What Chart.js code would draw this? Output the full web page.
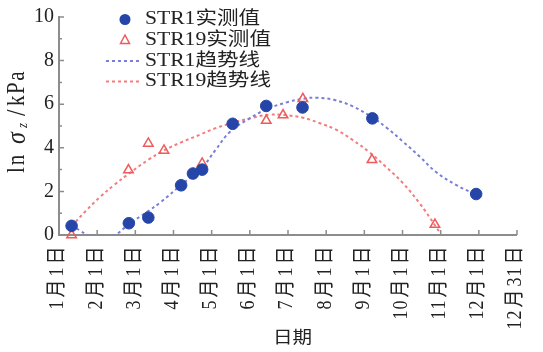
<!DOCTYPE html>
<html>
<head>
<meta charset="utf-8">
<script src="https://cdn.jsdelivr.net/npm/chart.js@4/dist/chart.umd.min.js"></script>
<style>
  html, body { margin: 0; padding: 0; background: #fff; }
  #wrap { width: 543px; height: 352px; }
</style>
</head>
<body>
<div id="wrap"><canvas id="chart"></canvas></div>
<script>
// x is measured in months from Jan 1 (0) to Dec 31 (12)
const dateLabels = ['1月1日', '2月1日', '3月1日', '4月1日', '5月1日', '6月1日', '7月1日',
  '8月1日', '9月1日', '10月1日', '11月1日', '12月1日', '12月31日'];
const yTicks = [0, 2, 4, 6, 8, 10];
const seriesNames = ['STR1实测值', 'STR19实测值', 'STR1趋势线', 'STR19趋势线'];

// measured values
const str1X = [0.33, 1.83, 2.34, 3.2, 3.51, 3.75, 4.55, 5.43, 6.38, 8.21, 10.93];
const str1Y = [0.42, 0.54, 0.8, 2.28, 2.82, 3.0, 5.1, 5.92, 5.85, 5.35, 1.88];
const str19X = [0.33, 1.82, 2.34, 2.75, 3.75, 5.43, 5.87, 6.39, 8.2, 9.85];
const str19Y = [0.0, 2.98, 4.2, 3.88, 3.28, 5.25, 5.5, 6.25, 3.45, 0.48];

// trend lines
const trend1X = [0.33, 0.55, 0.74, 1.1, 1.48, 1.84, 2.34, 2.66, 3.2, 3.75, 4.1, 4.49, 5.0, 5.45, 6.0, 6.4, 6.74, 7.2, 7.7, 8.2, 8.6, 9.0, 9.45, 9.87, 10.4, 10.93];
const trend1Y = [0.45, 0.2, 0.0, -0.35, 0.0, 0.5, 1.1, 1.5, 2.3, 3.1, 3.9, 4.75, 5.35, 5.78, 6.1, 6.25, 6.3, 6.2, 5.9, 5.4, 4.9, 4.3, 3.6, 2.9, 2.3, 1.85];
const trend19X = [0.33, 0.7, 1.08, 1.45, 1.82, 2.34, 2.73, 3.2, 3.69, 4.1, 4.56, 5.0, 5.5, 5.9, 6.39, 6.8, 7.26, 7.7, 8.13, 8.55, 9.0, 9.45, 9.87, 9.98];
const trend19Y = [0.4, 1.1, 1.75, 2.3, 2.8, 3.45, 3.86, 4.25, 4.6, 4.9, 5.15, 5.35, 5.52, 5.5, 5.38, 5.15, 4.83, 4.35, 3.8, 3.15, 2.4, 1.45, 0.4, 0.1];

const pts = (xs, ys) => xs.map((x, i) => ({ x: x, y: ys[i] }));

const BLUE = '#2546a8';
const RED = '#f05a5a';
const BLUE_LINE = '#7a7fd6';
const RED_LINE = '#f47c7c';
const AXIS = '#8c8c8c';
const INK = '#222';
const FONT = "'Liberation Serif', 'Noto Sans CJK SC', serif";
const SX = 1.2; // text is a little wide

Chart.defaults.font.family = FONT;
Chart.defaults.font.size = 20;
Chart.defaults.color = INK;

// draws text char by char along a (possibly rotated) baseline, stretched in screen x
function drawStr(ctx, str, x, y, font, opts = {}) {
  const spacing = opts.spacing || 0;
  ctx.save();
  ctx.font = font;
  ctx.translate(x, y);
  ctx.scale(opts.sx || SX, 1);
  if (opts.rotate) ctx.rotate(-Math.PI / 2);
  ctx.textAlign = 'left';
  ctx.textBaseline = 'middle';
  let t = 0;
  for (const ch of str) {
    ctx.fillText(ch, t, 0);
    t += ctx.measureText(ch).width + spacing;
  }
  ctx.restore();
  return t - spacing;
}

// date labels set in fixed cells: narrow for digits, wide for hanzi
const cellOf = ch => (/[0-9]/.test(ch) ? 10 : 23);
const cellLen = str => [...str].reduce((s, ch) => s + cellOf(ch), 0);

function drawCells(ctx, str, x, y, font, sx) {
  ctx.save();
  ctx.font = font;
  ctx.translate(x, y);
  ctx.scale(sx, 1);
  ctx.rotate(-Math.PI / 2);
  ctx.textAlign = 'center';
  ctx.textBaseline = 'middle';
  let t = 0;
  for (const ch of str) {
    const w = cellOf(ch);
    ctx.fillText(ch, t + w / 2, 0);
    t += w;
  }
  ctx.restore();
}

// axis lines with inward ticks
const axesPlugin = {
  id: 'axes',
  beforeDatasetsDraw(chart) {
    const { ctx, chartArea: a, scales: { x, y } } = chart;
    ctx.save();
    ctx.strokeStyle = AXIS;
    ctx.lineWidth = 2;
    ctx.beginPath();
    ctx.moveTo(a.left, a.top - 1);
    ctx.lineTo(a.left, a.bottom);
    ctx.lineTo(a.right, a.bottom);
    ctx.stroke();
    ctx.lineWidth = 1.5;
    ctx.beginPath();
    for (let v = 0; v <= 10; v++) {
      const py = y.getPixelForValue(v);
      ctx.moveTo(a.left, py);
      ctx.lineTo(a.left + (v % 2 === 0 ? 5 : 3), py);
    }
    dateLabels.forEach((_, i) => {
      const px = x.getPixelForValue(i);
      ctx.moveTo(px, a.bottom);
      ctx.lineTo(px, a.bottom - 5);
    });
    ctx.stroke();
    ctx.restore();
  }
};

// date labels, legend, axis titles
const textPlugin = {
  id: 'texts',
  afterDraw(chart) {
    const { ctx, chartArea: a, scales: { x } } = chart;
    ctx.save();
    ctx.fillStyle = INK;

    // rotated date labels, read bottom to top, top end just below the axis
    dateLabels.forEach((lab, i) => {
      const px = x.getPixelForValue(i) - 1;
      drawCells(ctx, lab, px, a.bottom + 9 + cellLen(lab), '18px ' + FONT, 1.15);
    });

    // legend
    const legFont = '18px ' + FONT;
    const rows = [19.5, 40, 61, 81.5];
    seriesNames.forEach((n, i) => drawStr(ctx, n, 145, rows[i], legFont));
    ctx.fillStyle = BLUE;
    ctx.beginPath();
    ctx.arc(125, rows[0], 5.5, 0, Math.PI * 2);
    ctx.fill();
    ctx.strokeStyle = RED;
    ctx.lineWidth = 1.5;
    ctx.beginPath();
    ctx.moveTo(125, rows[1] - 5);
    ctx.lineTo(129.5, rows[1] + 3.5);
    ctx.lineTo(120.5, rows[1] + 3.5);
    ctx.closePath();
    ctx.stroke();
    ctx.lineWidth = 2;
    ctx.setLineDash([3, 3]);
    [[BLUE_LINE, rows[2]], [RED_LINE, rows[3]]].forEach(([c, ry]) => {
      ctx.strokeStyle = c;
      ctx.beginPath();
      ctx.moveTo(106, ry);
      ctx.lineTo(142, ry);
      ctx.stroke();
    });
    ctx.setLineDash([]);

    // x title
    ctx.fillStyle = INK;
    drawStr(ctx, '日期', 273, 339, '17px ' + FONT, { sx: 1.15 });

    // y title: ln σz/kPa, bottom to top
    const tx = 18;
    drawStr(ctx, 'ln', tx, 173, '21px ' + FONT, { rotate: true, spacing: 2, sx: 1.15 });
    drawStr(ctx, 'σ', tx, 144, 'italic 24px ' + FONT, { rotate: true, sx: 1.15 });
    drawStr(ctx, 'z', tx + 5, 128, 'italic 13px ' + FONT, { rotate: true, sx: 1.15 });
    drawStr(ctx, '/', tx, 116, '23px ' + FONT, { rotate: true, sx: 1.15 });
    drawStr(ctx, 'kPa', tx, 106, '21px ' + FONT, { rotate: true, spacing: 1.5, sx: 1.15 });
    ctx.restore();
  }
};

new Chart(document.getElementById('chart'), {
  type: 'scatter',
  data: {
    datasets: [
      {
        label: seriesNames[0],
        data: pts(str1X, str1Y),
        pointStyle: 'circle',
        pointRadius: 5.8,
        backgroundColor: BLUE,
        borderColor: BLUE,
        borderWidth: 1,
        clip: false
      },
      {
        label: seriesNames[1],
        data: pts(str19X, str19Y),
        pointStyle: 'triangle',
        pointRadius: 5.5,
        backgroundColor: 'rgba(255,255,255,0)',
        borderColor: RED,
        borderWidth: 1.5,
        clip: false
      },
      {
        label: seriesNames[2],
        data: pts(trend1X, trend1Y),
        showLine: true,
        pointRadius: 0,
        borderColor: BLUE_LINE,
        borderWidth: 2,
        borderDash: [3, 3],
        tension: 0.4
      },
      {
        label: seriesNames[3],
        data: pts(trend19X, trend19Y),
        showLine: true,
        pointRadius: 0,
        borderColor: RED_LINE,
        borderWidth: 2,
        borderDash: [3, 3],
        tension: 0.4
      }
    ]
  },
  options: {
    responsive: true,
    maintainAspectRatio: false,
    animation: false,
    layout: { padding: { left: 0, right: 26, top: 13, bottom: 0 } },
    plugins: {
      legend: { display: false },
      tooltip: { enabled: false }
    },
    scales: {
      x: {
        type: 'linear',
        min: 0,
        max: 12,
        grid: { display: false, drawTicks: false },
        border: { display: false },
        afterBuildTicks: s => { s.ticks = dateLabels.map((_, i) => ({ value: i })); },
        afterFit: s => { s.height = 117; },
        ticks: { display: false }
      },
      y: {
        min: 0,
        max: 10,
        grid: { display: false, drawTicks: false },
        border: { display: false },
        afterBuildTicks: s => { s.ticks = yTicks.map(v => ({ value: v })); },
        afterFit: s => { s.width = 59; },
        ticks: { padding: 5 }
      }
    }
  },
  plugins: [axesPlugin, textPlugin]
});
</script>
</body>
</html>
